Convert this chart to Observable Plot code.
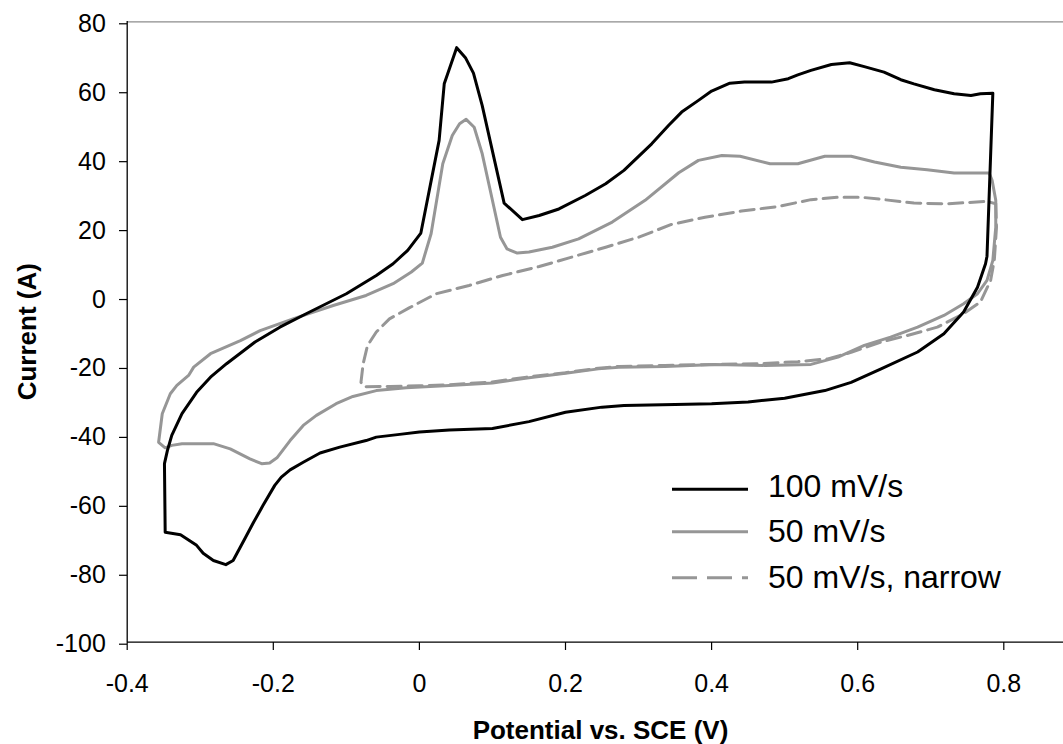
<!DOCTYPE html>
<html>
<head>
<meta charset="utf-8">
<script src="https://cdn.jsdelivr.net/npm/d3@7"></script>
<script src="https://cdn.jsdelivr.net/npm/@observablehq/plot@0.6"></script>
<style>
  html, body { margin: 0; padding: 0; background: #fff; }
  #wrap { position: relative; width: 1063px; height: 744px; overflow: hidden; background: #fff; }
  #wrap svg.overlay { position: absolute; left: 0; top: 0; pointer-events: none; }
</style>
</head>
<body>
<div id="wrap"></div>
<script>
// ---- tick labels ----
const xTicks = [-0.4, -0.2, 0, 0.2, 0.4, 0.6, 0.8];
const yTicks = [-100, -80, -60, -40, -20, 0, 20, 40, 60, 80];

// ---- titles / series names ----
const xTitle = "Potential vs. SCE (V)";
const yTitle = "Current (A)";
const seriesNames = ["100 mV/s", "50 mV/s", "50 mV/s, narrow"];

// ---- series: [potential (V), current] in scan order ----
const scan100 = [
  [0.785, 59.3], [0.777, 12.0], [0.775, 9.8], [0.764, 3.0], [0.745, -4.2], [0.718, -10.5],
  [0.682, -15.8], [0.632, -20.7], [0.591, -24.6], [0.555, -27.0], [0.5, -29.2], [0.45, -30.3],
  [0.4, -30.8], [0.35, -31.0], [0.28, -31.3], [0.25, -31.8], [0.2, -33.3], [0.15, -36.0],
  [0.1, -38.0], [0.041, -38.4], [0.0, -39.0], [-0.027, -39.7], [-0.059, -40.5], [-0.073, -41.5],
  [-0.109, -43.4], [-0.136, -45.1], [-0.159, -47.8], [-0.177, -50.0], [-0.189, -52.1], [-0.198, -54.5],
  [-0.214, -60.3], [-0.227, -65.2], [-0.239, -70.0], [-0.255, -76.3], [-0.265, -77.5], [-0.282, -76.3],
  [-0.296, -74.2], [-0.305, -71.9], [-0.327, -68.8], [-0.348, -68.1], [-0.349, -48.2], [-0.345, -44.4],
  [-0.339, -40.0], [-0.325, -33.7], [-0.305, -27.5], [-0.286, -23.1], [-0.264, -19.2], [-0.225, -12.9],
  [-0.191, -8.6], [-0.155, -4.7], [-0.100, 1.1], [-0.059, 6.4], [-0.036, 9.8], [-0.016, 13.7],
  [0.002, 18.7], [0.027, 45.6], [0.034, 62.0], [0.051, 72.5], [0.063, 69.6], [0.074, 65.1],
  [0.086, 55.7], [0.116, 27.4], [0.141, 22.6], [0.164, 23.8], [0.191, 25.7], [0.227, 29.6],
  [0.255, 33.0], [0.280, 36.9], [0.318, 44.6], [0.341, 49.9], [0.359, 53.8], [0.382, 57.2],
  [0.400, 59.9], [0.425, 62.2], [0.445, 62.5], [0.482, 62.5], [0.505, 63.5], [0.518, 64.6],
  [0.536, 65.9], [0.564, 67.6], [0.589, 68.1], [0.609, 67.0], [0.636, 65.4], [0.659, 63.2],
  [0.677, 62.0], [0.705, 60.3], [0.732, 59.1], [0.755, 58.6], [0.768, 59.1], [0.785, 59.3]
];

const scan50 = [
  [0.780, 36.1], [0.784, 34.0], [0.789, 28.2], [0.789, 20.4], [0.785, 10.8], [0.777, 5.0],
  [0.764, 1.1], [0.745, -1.8], [0.718, -5.2], [0.682, -8.6], [0.645, -11.5], [0.609, -13.9],
  [0.573, -17.3], [0.536, -19.4], [0.473, -19.7], [0.405, -19.4], [0.336, -20.0], [0.273, -20.2],
  [0.245, -20.7], [0.2, -22.0], [0.15, -23.3], [0.1, -24.8], [0.041, -25.5], [-0.018, -26.2],
  [-0.059, -27.0], [-0.091, -28.7], [-0.114, -30.8], [-0.141, -34.2], [-0.159, -37.1], [-0.177, -41.5],
  [-0.195, -46.5], [-0.205, -48.0], [-0.216, -48.2], [-0.232, -46.8], [-0.259, -43.9], [-0.282, -42.4],
  [-0.325, -42.4], [-0.339, -42.9], [-0.348, -43.6], [-0.357, -42.0], [-0.352, -33.7], [-0.341, -27.9],
  [-0.332, -25.5], [-0.316, -22.6], [-0.309, -20.2], [-0.286, -16.3], [-0.245, -12.5], [-0.218, -9.6],
  [-0.173, -6.2], [-0.118, -2.3], [-0.073, 0.6], [-0.036, 4.0], [-0.011, 7.4], [0.004, 10.0],
  [0.016, 18.5], [0.032, 38.8], [0.045, 47.0], [0.055, 50.4], [0.064, 51.7], [0.075, 49.4],
  [0.086, 41.7], [0.098, 30.1], [0.111, 17.5], [0.120, 14.1], [0.134, 12.9], [0.150, 13.2],
  [0.182, 14.6], [0.218, 17.0], [0.264, 21.9], [0.309, 28.2], [0.355, 36.2], [0.382, 39.8],
  [0.414, 41.2], [0.439, 41.0], [0.480, 38.8], [0.518, 38.8], [0.555, 41.0], [0.591, 41.0],
  [0.623, 39.3], [0.659, 37.8], [0.695, 37.1], [0.732, 36.1], [0.780, 36.1]
];

const scan50narrow = [
  [0.789, 27.2], [0.790, 20.4], [0.787, 10.8], [0.782, 5.0], [0.768, -1.3], [0.745, -4.7],
  [0.709, -8.6], [0.668, -11.0], [0.632, -12.9], [0.591, -15.9], [0.559, -17.8], [0.518, -18.6],
  [0.464, -19.2], [0.405, -19.4], [0.336, -19.7], [0.273, -20.0], [0.245, -20.5], [0.2, -21.8],
  [0.15, -23.0], [0.1, -24.5], [0.04, -25.3], [0.0, -25.6], [-0.04, -25.8], [-0.075, -25.9],
  [-0.080, -24.6], [-0.077, -19.2], [-0.071, -13.9], [-0.059, -10.0], [-0.041, -6.2], [-0.014, -3.0],
  [0.023, 1.1], [0.068, 3.5], [0.114, 6.4], [0.164, 9.0], [0.205, 11.5], [0.255, 14.6],
  [0.300, 17.5], [0.345, 21.2], [0.391, 23.3], [0.441, 25.1], [0.491, 26.4], [0.536, 28.4],
  [0.573, 29.1], [0.605, 29.1], [0.636, 28.4], [0.677, 27.4], [0.723, 27.2], [0.777, 27.9],
  [0.789, 27.2]
];

const FONT = '"Liberation Sans", Arial, Helvetica, sans-serif';
const GRAY = "#969696";
const fmtX = d => String(Math.round(d * 10) / 10);
const fmtY = d => String(d);

const chart = Plot.plot({
  width: 1063,
  height: 744,
  marginLeft: 127,
  marginRight: 0,
  marginTop: 21,
  marginBottom: 102,
  x: {domain: [-0.4, 0.8], range: [126.7, 1003.3]},
  y: {domain: [-100, 80], range: [641.7, 21.3]},
  style: {fontFamily: FONT, fontSize: "25px", background: "#fff", color: "#000", overflow: "visible"},
  marks: [
    Plot.ruleY([80], {stroke: "#8c8c8c", strokeWidth: 1.3}),
    Plot.axisX({ticks: xTicks, tickFormat: fmtX, tickSize: 8, tickPadding: 23.5, label: null, stroke: "#000", strokeWidth: 1.2, fill: "#000"}),
    Plot.axisY({ticks: yTicks, tickFormat: fmtY, tickSize: 8, tickPadding: 13.7, dy: 2, label: null, stroke: "#000", strokeWidth: 1.2, fill: "#000"}),
    Plot.line(scan50narrow, {x: d => d[0], y: d => d[1], stroke: GRAY, strokeWidth: 3, strokeDasharray: "14,7", strokeLinejoin: "round"}),
    Plot.line(scan50, {x: d => d[0], y: d => d[1], stroke: GRAY, strokeWidth: 3, strokeLinejoin: "round"}),
    Plot.line(scan100, {x: d => d[0], y: d => d[1], stroke: "#000", strokeWidth: 3, strokeLinejoin: "round"}),
    Plot.ruleX([-0.4], {stroke: "#000", strokeWidth: 1.3}),
    Plot.ruleY([-100], {stroke: "#000", strokeWidth: 1.3})
  ]
});

const wrap = document.getElementById("wrap");
wrap.appendChild(chart);

// ---- overlay: axis titles and legend ----
const ns = "http://www.w3.org/2000/svg";
const ov = document.createElementNS(ns, "svg");
ov.setAttribute("class", "overlay");
ov.setAttribute("width", 1063);
ov.setAttribute("height", 744);
ov.style.fontFamily = FONT;

function addText(parent, str, attrs) {
  const t = document.createElementNS(ns, "text");
  for (const k in attrs) t.setAttribute(k, attrs[k]);
  t.textContent = str;
  parent.appendChild(t);
  return t;
}
function addLine(parent, attrs) {
  const l = document.createElementNS(ns, "line");
  for (const k in attrs) l.setAttribute(k, attrs[k]);
  parent.appendChild(l);
}

addText(ov, xTitle, {x: 600.5, y: 739, "text-anchor": "middle", "font-size": 26, "font-weight": "bold", fill: "#000"});
addText(ov, yTitle, {transform: "translate(36,331.7) rotate(-90)", x: 0, y: 0, "text-anchor": "middle", "font-size": 26, "font-weight": "bold", fill: "#000"});

const legendStyles = [
  {stroke: "#000", dash: null, y: 489.3, base: 496.7},
  {stroke: GRAY, dash: null, y: 531.7, base: 541.7},
  {stroke: GRAY, dash: "25,10", y: 577.7, base: 588}
];
seriesNames.forEach((name, i) => {
  const s = legendStyles[i];
  const a = {x1: 672, x2: 748, y1: s.y, y2: s.y, stroke: s.stroke, "stroke-width": 3};
  if (s.dash) a["stroke-dasharray"] = s.dash;
  addLine(ov, a);
  addText(ov, name, {x: 768, y: s.base, "font-size": 32, fill: "#000"});
});
wrap.appendChild(ov);
</script>
</body>
</html>
